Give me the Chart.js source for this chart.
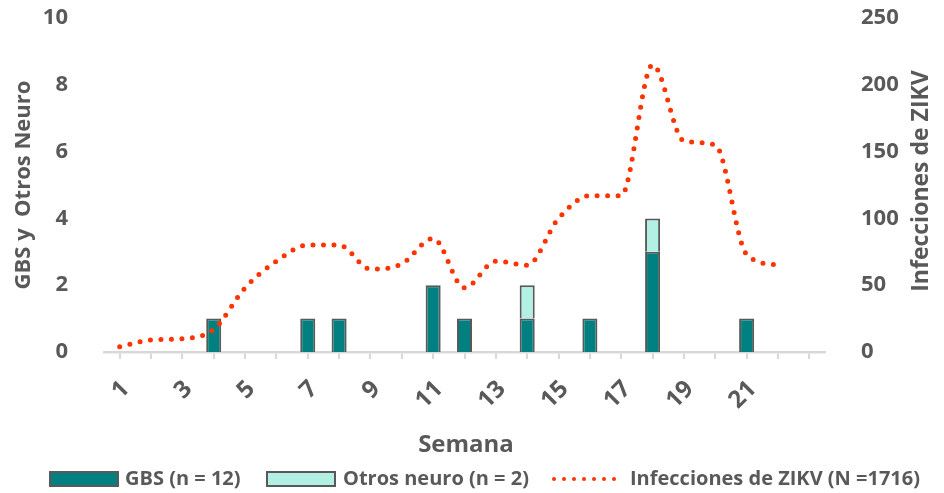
<!DOCTYPE html>
<html>
<head>
<meta charset="utf-8">
<script src="https://cdn.jsdelivr.net/npm/chart.js@4.4.0/dist/chart.umd.min.js"></script>
<style>
  html, body { margin: 0; padding: 0; background: #fff; }
  canvas { display: block; }
</style>
</head>
<body>
<canvas id="chart" width="944" height="493"></canvas>
<script>
// datos por semana (la ultima categoria del eje va vacia)
const semanas = ['1','2','3','4','5','6','7','8','9','10','11','12','13','14','15','16','17','18','19','20','21','22',''];
const gbs        = [0,0,0,1,0,0,1,1,0,0,2,1,0,1,0,1,0,3,0,0,1,0,0];
const otrosNeuro = [0,0,0,0,0,0,0,0,0,0,0,0,0,1,0,0,0,1,0,0,0,0,0];
const zikv       = [4,9,10,17,48,68,80,80,62,66,85,48,68,65,100,117,117,215,158,155,73,65,null];
const ticksIzq = [0,2,4,6,8,10];
const ticksDer = [0,50,100,150,200,250];

const GRIS = '#595959';
const TEAL = '#008080';
const MENTA = '#B3F0E4';
const ROJO = '#FF3300';
const FUENTE = '"Open Sans", sans-serif';

// leyenda y titulos de ejes dibujados a mano
const extras = {
  id: 'extras',
  afterDraw(chart) {
    const ctx = chart.ctx;
    ctx.save();
    ctx.fillStyle = GRIS;
    ctx.textBaseline = 'middle';

    // titulos de ejes
    ctx.font = 'bold 24px ' + FUENTE;
    ctx.textAlign = 'center';
    ctx.fillText('Semana', 466, 445);

    ctx.font = 'bold 22px ' + FUENTE;
    ctx.save();
    ctx.translate(24, 185);
    ctx.rotate(-Math.PI / 2);
    ctx.fillText('GBS y  Otros Neuro', 0, 0);
    ctx.restore();

    ctx.font = 'bold 23px ' + FUENTE;
    ctx.save();
    ctx.translate(921, 181);
    ctx.rotate(-Math.PI / 2);
    ctx.fillText('Infecciones de ZIKV', 0, 0);
    ctx.restore();

    // leyenda
    const y = 479;
    ctx.font = 'bold 20px ' + FUENTE;
    ctx.textAlign = 'left';
    ctx.lineWidth = 2;
    ctx.strokeStyle = GRIS;

    ctx.fillStyle = TEAL;
    ctx.fillRect(50, y - 7, 68, 14);
    ctx.strokeRect(50, y - 7, 68, 14);
    ctx.fillStyle = GRIS;
    ctx.fillText(chart.data.datasets[0].label, 125, y);

    ctx.fillStyle = MENTA;
    ctx.fillRect(267, y - 7, 68, 14);
    ctx.strokeRect(267, y - 7, 68, 14);
    ctx.fillStyle = GRIS;
    ctx.fillText(chart.data.datasets[1].label, 343, y);

    ctx.strokeStyle = ROJO;
    ctx.lineWidth = 4;
    ctx.lineCap = 'round';
    ctx.setLineDash([0, 10]);
    ctx.beginPath();
    ctx.moveTo(554, y);
    ctx.lineTo(624, y);
    ctx.stroke();
    ctx.setLineDash([]);
    ctx.fillStyle = GRIS;
    ctx.fillText(chart.data.datasets[2].label, 630, y);

    ctx.restore();
  }
};

new Chart(document.getElementById('chart'), {
  type: 'bar',
  data: {
    labels: semanas,
    datasets: [
      {
        label: 'GBS (n = 12)',
        data: gbs,
        backgroundColor: TEAL,
        borderColor: GRIS,
        borderWidth: 2,
        yAxisID: 'y',
        stack: 'neuro',
        order: 2,
        barPercentage: 0.48,
        categoryPercentage: 1
      },
      {
        label: 'Otros neuro (n = 2)',
        data: otrosNeuro,
        backgroundColor: MENTA,
        borderColor: GRIS,
        borderWidth: 2,
        yAxisID: 'y',
        stack: 'neuro',
        order: 2,
        barPercentage: 0.48,
        categoryPercentage: 1
      },
      {
        type: 'line',
        label: 'Infecciones de ZIKV (N =1716)',
        data: zikv,
        yAxisID: 'y1',
        borderColor: ROJO,
        borderWidth: 5,
        borderDash: [0, 10.5],
        borderCapStyle: 'round',
        cubicInterpolationMode: 'monotone',
        pointRadius: 0,
        fill: false,
        order: 1
      }
    ]
  },
  options: {
    responsive: false,
    animation: false,
    layout: { padding: { top: 18, left: 0, right: 0, bottom: 0 } },
    plugins: {
      legend: { display: false },
      tooltip: { enabled: false }
    },
    scales: {
      x: {
        stacked: true,
        offset: true,
        afterFit: s => { s.height = 141; s.paddingLeft = 0; s.paddingRight = 0; },
        grid: {
          offset: false,
          drawOnChartArea: false,
          drawTicks: true,
          tickLength: 7,
          color: '#D9D9D9',
          lineWidth: 2
        },
        border: { display: true, color: '#D9D9D9', width: 2.5 },
        ticks: {
          autoSkip: false,
          minRotation: 45,
          maxRotation: 45,
          padding: 16,
          labelOffset: 6,
          color: GRIS,
          font: { family: FUENTE, weight: 'bold', size: 24 },
          callback: (v, i) => (i % 2 === 0 ? semanas[i] : '')
        }
      },
      y: {
        position: 'left',
        stacked: true,
        min: 0,
        max: 10,
        afterFit: s => { s.width = 104; s.paddingTop = 0; s.paddingBottom = 0; },
        afterBuildTicks: s => { s.ticks = ticksIzq.map(v => ({ value: v })); },
        grid: { display: false },
        border: { display: false },
        ticks: {
          padding: 28,
          color: GRIS,
          font: { family: FUENTE, weight: 'bold', size: 22 }
        }
      },
      y1: {
        position: 'right',
        min: 0,
        max: 250,
        afterFit: s => { s.width = 119; s.paddingTop = 0; s.paddingBottom = 0; },
        afterBuildTicks: s => { s.ticks = ticksDer.map(v => ({ value: v })); },
        grid: { display: false },
        border: { display: false },
        ticks: {
          padding: 28,
          color: GRIS,
          font: { family: FUENTE, weight: 'bold', size: 22 }
        }
      }
    }
  },
  plugins: [extras]
});
</script>
</body>
</html>
